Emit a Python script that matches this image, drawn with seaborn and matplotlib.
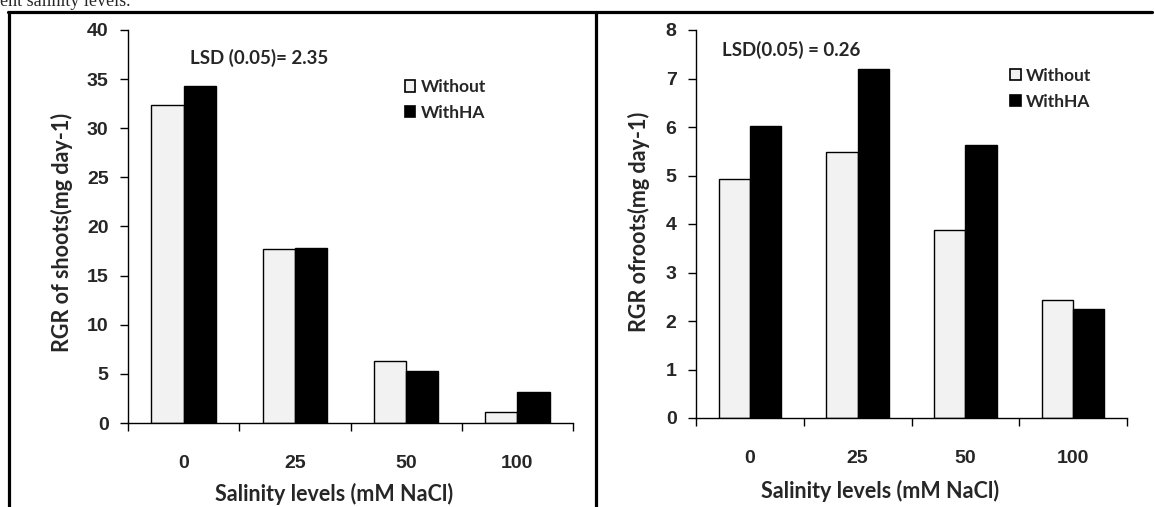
import pandas as pd
import matplotlib
matplotlib.use("Agg")
import matplotlib.pyplot as plt
from matplotlib.patches import Patch
from matplotlib.lines import Line2D
import seaborn as sns

levels = ["0", "25", "50", "100"]
treatments = ["Without", "WithHA"]
shoots_without = [32.4, 17.7, 6.3, 1.1]
shoots_withha = [34.3, 17.8, 5.3, 3.2]
roots_without = [4.93, 5.48, 3.88, 2.43]
roots_withha = [6.03, 7.20, 5.62, 2.25]

LIGHT = "#F2F2F2"
DARK = "#000000"

sns.set_style("white")
plt.rcParams["font.family"] = ["Liberation Sans", "DejaVu Sans"]

LABEL_FONT = ["Lato", "DejaVu Sans"]


def long_df(without, withha):
    rows = []
    for lv, a, b in zip(levels, without, withha):
        rows.append({"level": lv, "treat": treatments[0], "value": a})
        rows.append({"level": lv, "treat": treatments[1], "value": b})
    return pd.DataFrame(rows)


def draw(ax, df, ymax, ystep, ylabel, ylab_xy, xlab_xy, lsd, lsd_xy, leg_xy):
    sns.barplot(data=df, x="level", y="value", hue="treat", order=levels,
                hue_order=treatments, palette=[LIGHT, DARK], width=0.58,
                edgecolor="black", linewidth=1, errorbar=None, legend=False, ax=ax)
    ax.set_xlim(-0.5, 3.5)
    ax.set_ylim(0, ymax)
    ax.set_yticks(range(0, ymax + 1, ystep))
    ax.set_xticks([-0.5, 0.5, 1.5, 2.5, 3.5], minor=True)
    ax.tick_params(axis="x", which="major", bottom=True, length=0, pad=23)
    ax.tick_params(axis="x", which="minor", bottom=True, length=6, width=1,
                   direction="out", color="black")
    ax.tick_params(axis="y", which="major", left=True, length=6, width=1,
                   direction="out", color="black", pad=8)
    for lab in ax.get_xticklabels() + ax.get_yticklabels():
        lab.set_fontsize(14)
        lab.set_fontweight("bold")
    for s in ["top", "right"]:
        ax.spines[s].set_visible(False)
    for s in ["left", "bottom"]:
        ax.spines[s].set_color("black")
        ax.spines[s].set_linewidth(1)
    ax.set_ylabel(ylabel, fontsize=15.5, fontweight="bold", family=LABEL_FONT)
    ax.yaxis.set_label_coords(*ylab_xy)
    ax.set_xlabel("Salinity levels (mM NaCl)", fontsize=15.5, fontweight="bold",
                  family=LABEL_FONT)
    ax.xaxis.set_label_coords(*xlab_xy)
    ax.text(lsd_xy[0], lsd_xy[1], lsd, transform=ax.transAxes, fontsize=13.5,
            fontweight="bold", family=LABEL_FONT, va="center", ha="left")
    handles = [Patch(facecolor=LIGHT, edgecolor="black", linewidth=1.2),
               Patch(facecolor=DARK, edgecolor="black", linewidth=1.2)]
    ax.legend(handles, treatments, loc="upper left", bbox_to_anchor=leg_xy,
              frameon=False, borderpad=0, borderaxespad=0, handlelength=0.6,
              handleheight=0.6, handletextpad=0.3, labelspacing=0.55,
              prop={"family": LABEL_FONT, "weight": "bold", "size": 12.5})


fig = plt.figure(figsize=(11.55, 5.07), dpi=100)
ax1 = fig.add_axes([128 / 1155, 1 - 423 / 507, 445 / 1155, 393 / 507])
ax2 = fig.add_axes([696 / 1155, 1 - 418 / 507, 431 / 1155, 388 / 507])

draw(ax1, long_df(shoots_without, shoots_withha), 40, 5, "RGR of shoots(mg day-1)",
     (-0.124, 0.486), (0.463, -0.153), "LSD (0.05)= 2.35", (0.139, 0.929), (0.622, 0.875))
draw(ax2, long_df(roots_without, roots_withha), 8, 1, "RGR ofroots(mg day-1)",
     (-0.107, 0.505), (0.427, -0.160), "LSD(0.05) = 0.26", (0.060, 0.948), (0.729, 0.902))

# page frame around the two panels
lw = 2.3
fig.add_artist(Line2D([8 / 1155, 1152 / 1155], [1 - 12 / 507] * 2, color="black", lw=lw))
fig.add_artist(Line2D([9 / 1155] * 2, [0, 1 - 12 / 507], color="black", lw=lw))
fig.add_artist(Line2D([596 / 1155] * 2, [0, 1 - 12 / 507], color="black", lw=lw))

# caption line of the page, cut at the top edge as in the source
fig.text(0.0, 1 - 6 / 507, "ent salinity levels.", family=["Liberation Serif", "DejaVu Serif"],
         fontsize=13, va="baseline", ha="left")

fig.savefig("out.png", dpi=100, facecolor="white")
